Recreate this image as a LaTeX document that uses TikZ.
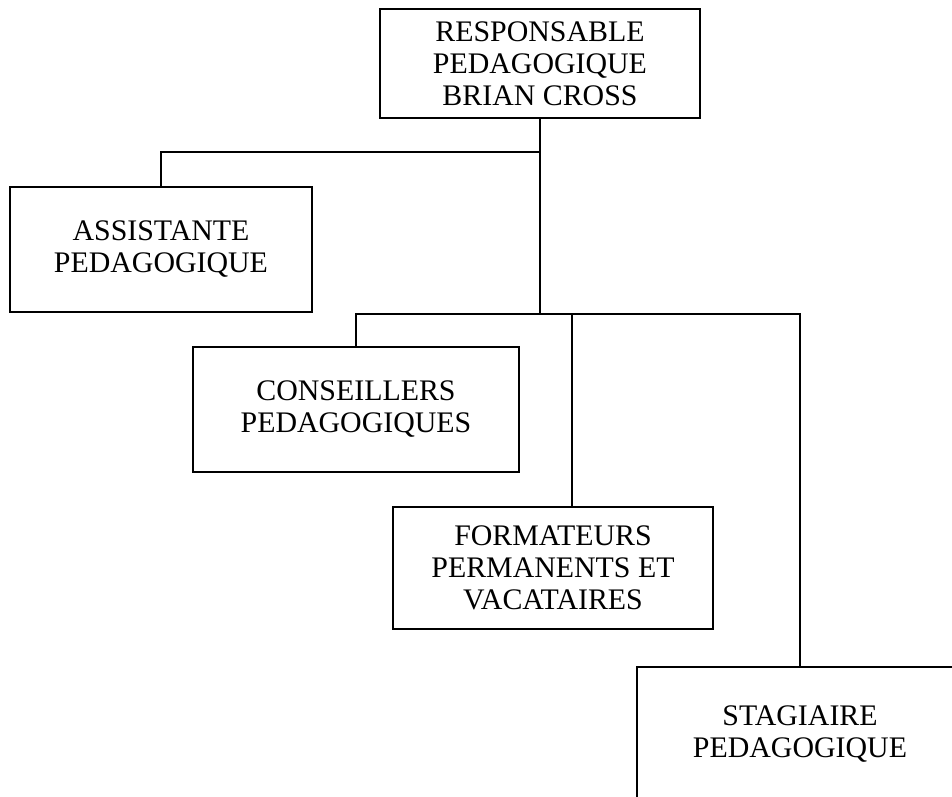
\documentclass[tikz,border=0pt]{standalone}
\usepackage{fontspec}
\setmainfont{Liberation Serif}
\usetikzlibrary{calc}

\tikzset{orgbox/.style={draw, line width=1.1pt, align=center, inner sep=0pt, font=\fontsize{17}{18.2}\selectfont}}

\begin{document}
\begin{tikzpicture}[x=0.02cm, y=-0.02cm, line width=1.2pt]
	\useasboundingbox (0,0) rectangle (952,796);
	\clip (0,0) rectangle (952,796);

	\node (resp) [orgbox, minimum width=6.4cm, minimum height=2.18cm] at (540, 63.5) {RESPONSABLE\\ PEDAGOGIQUE\\ BRIAN CROSS};
	\node (assist) [orgbox, minimum width=6.04cm, minimum height=2.5cm] at (161, 249.5) {ASSISTANTE\\ PEDAGOGIQUE};
	\node (cons) [orgbox, minimum width=6.52cm, minimum height=2.5cm] at (356, 409.5) {CONSEILLERS\\ PEDAGOGIQUES};
	\node (form) [orgbox, minimum width=6.4cm, minimum height=2.44cm] at (553, 568) {FORMATEURS\\ PERMANENTS ET\\ VACATAIRES};
	\node (stag) [orgbox, minimum width=6.52cm, minimum height=2.7cm] at (800, 734) {STAGIAIRE\\ PEDAGOGIQUE};

	\coordinate (j1) at (540, 152);
	\coordinate (j2) at (540, 314);
	\coordinate (j3) at (572, 314);

	\draw (resp.south) -- (j2);
	\draw (j1) -| (assist.north);
	\draw (cons.north) |- (j2) -| (stag.north);
	\draw (j3) -- (j3 |- form.north);
\end{tikzpicture}
\end{document}
